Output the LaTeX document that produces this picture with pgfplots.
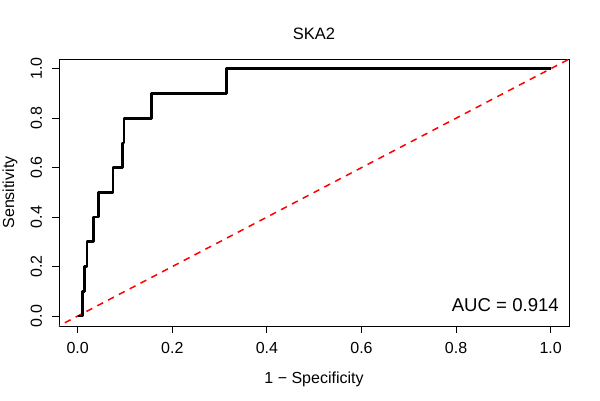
\documentclass[border=0pt]{standalone}
\usepackage{fontspec}
\setmainfont{Liberation Sans}
\usepackage{pgfplots}
\pgfplotsset{compat=1.18}
\begin{document}
\begin{tikzpicture}
\fontsize{16pt}{19pt}\selectfont
\path[use as bounding box] (0,0) rectangle (600pt,400pt);
\begin{axis}[
  at={(59pt,74pt)}, anchor=south west,
  scale only axis, width=510pt, height=267pt,
  xmin=-0.0395, xmax=1.0387, ymin=-0.0403, ymax=1.0393,
  axis line style={black, line width=0.9pt},
  xtick pos=bottom, ytick pos=left,
  xtick={0,0.2,0.4,0.6,0.8,1.0}, ytick={0,0.2,0.4,0.6,0.8,1.0},
  xticklabels={0.0,0.2,0.4,0.6,0.8,1.0}, yticklabels={0.0,0.2,0.4,0.6,0.8,1.0},
  tick align=outside, major tick length=7pt,
  tick style={black, line width=0.9pt},
  /pgf/number format/assume math mode=true,
  xticklabel style={anchor=base, yshift=-20.5pt, inner sep=0pt, font=\fontsize{16pt}{19pt}\selectfont},
  yticklabel style={xshift=-10pt, rotate=90, anchor=base, inner sep=0pt, font=\fontsize{16pt}{19pt}\selectfont},
  title={SKA2},
  title style={at={(axis description cs:0.5,1.0524)}, anchor=base, inner sep=0pt, font=\fontsize{16.5pt}{19pt}\selectfont},
  xlabel={1 − Specificity},
  xlabel style={at={(axis description cs:0.5,-0.2135)}, anchor=base, inner sep=0pt, font=\fontsize{16pt}{19pt}\selectfont},
  ylabel={Sensitivity},
  ylabel style={at={(axis description cs:-0.0882,0.5)}, rotate=0, anchor=base, inner sep=0pt, font=\fontsize{16pt}{19pt}\selectfont},
  clip=true,
]
\addplot[red, line width=1.5pt, dash pattern=on 6.5pt off 5.7pt] coordinates {(-0.05,-0.05) (1.05,1.05)};
\addplot[black, line width=2.7pt, line join=round] coordinates {
(0,0) (0.0099,0) (0.0099,0.1) (0.0141,0.1) (0.0141,0.2) (0.0197,0.2) (0.0197,0.3)
(0.0338,0.3) (0.0338,0.4) (0.0444,0.4) (0.0444,0.5) (0.0747,0.5) (0.0747,0.6)
(0.0951,0.6) (0.0951,0.7) (0.098,0.7) (0.098,0.8) (0.156,0.8) (0.156,0.9)
(0.314,0.9) (0.314,1) (1,1)};
\node[anchor=base east, inner sep=0pt, font=\fontsize{18.6pt}{22pt}\selectfont] at (axis cs:1.0176,0.017) {AUC = 0.914};
\end{axis}
\end{tikzpicture}
\end{document}
